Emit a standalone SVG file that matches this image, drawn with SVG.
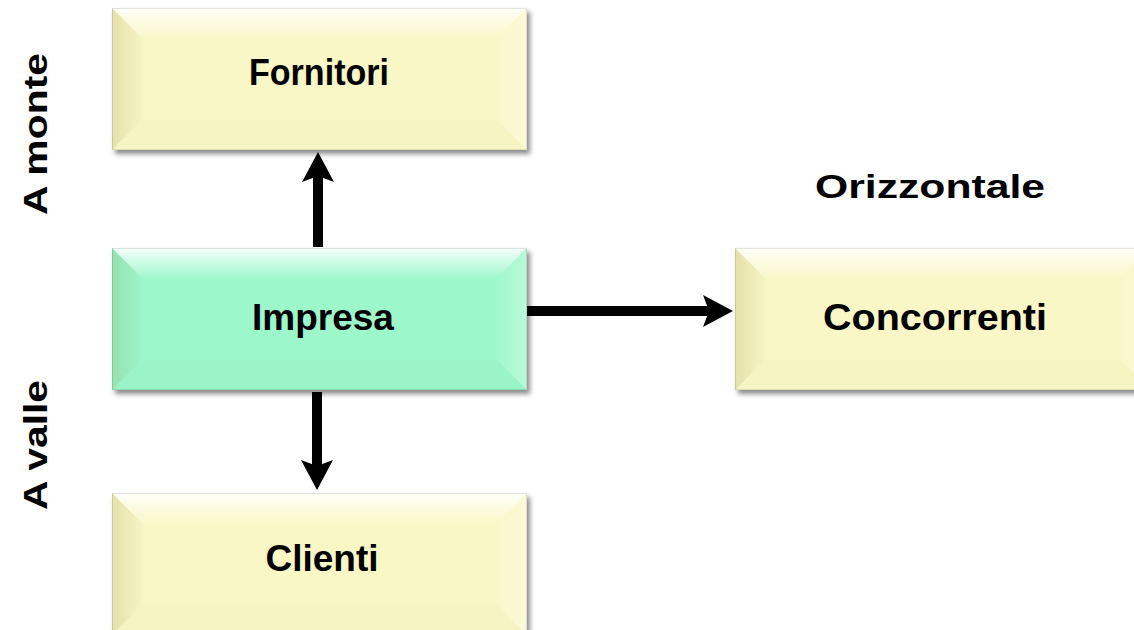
<svg xmlns="http://www.w3.org/2000/svg" width="1134" height="630" viewBox="0 0 1134 630">
<style>
.lbl{font-family:"Liberation Sans",Arial,sans-serif;font-weight:bold;font-size:37px;fill:#000;text-anchor:middle}
.side{font-family:"Liberation Sans",Arial,sans-serif;font-weight:bold;font-size:34px;fill:#000;text-anchor:middle}
.yel{fill:#F9F7C6}
.grn{fill:#9CF7CB}
.conn{stroke:#000;stroke-width:10;fill:none;marker-end:url(#head)}
</style>
<defs>
<filter id="sh" x="-5%" y="-5%" width="112%" height="120%">
<feDropShadow dx="3" dy="4" stdDeviation="2.5" flood-color="#000" flood-opacity="0.45"/>
</filter>
<linearGradient id="gTop" x1="0" y1="0" x2="0" y2="1">
<stop offset="0" stop-color="#fff" stop-opacity="0.9"/>
<stop offset="1" stop-color="#fff" stop-opacity="0.05"/>
</linearGradient>
<linearGradient id="gLeft" x1="0" y1="0" x2="1" y2="0">
<stop offset="0" stop-color="#7a6a20" stop-opacity="0.16"/>
<stop offset="1" stop-color="#7a6a20" stop-opacity="0.02"/>
</linearGradient>
<linearGradient id="gRight" x1="0" y1="0" x2="1" y2="0">
<stop offset="0" stop-color="#fff" stop-opacity="0.05"/>
<stop offset="1" stop-color="#fff" stop-opacity="0.3"/>
</linearGradient>
<g id="bevel">
<polygon points="0,0 415,0 385,30 30,30" fill="url(#gTop)"/>
<polygon points="0,0 30,30 30,112 0,142" fill="url(#gLeft)"/>
<polygon points="415,0 415,142 385,112 385,30" fill="url(#gRight)"/>
<polygon points="0,142 30,112 385,112 415,142" fill="#000" fill-opacity="0.012"/>
<rect x="0.5" y="0.5" width="414" height="141" fill="none" stroke="#000" stroke-opacity="0.1"/>
</g>
<marker id="head" viewBox="0 0 32 32" refX="6" refY="16" markerWidth="32" markerHeight="32" markerUnits="userSpaceOnUse" orient="auto">
<path d="M0,0 L30,16 L0,32 L6,16 Z" fill="#000"/>
</marker>
</defs>

<g id="connectors">
<path class="conn" d="M318,247 L318,176"/>
<path class="conn" d="M317,392 L317,466"/>
<path class="conn" d="M527,311 L709,311"/>
</g>

<g id="fornitori" transform="translate(112,8)">
<rect class="yel" width="415" height="142" filter="url(#sh)"/>
<use href="#bevel"/>
<text class="lbl" x="207" y="77" textLength="140" lengthAdjust="spacingAndGlyphs">Fornitori</text>
</g>

<g id="impresa" transform="translate(112,248)">
<rect class="grn" width="415" height="142" filter="url(#sh)"/>
<use href="#bevel"/>
<text class="lbl" x="211" y="82">Impresa</text>
</g>

<g id="concorrenti" transform="translate(735,248)">
<rect class="yel" width="415" height="142" filter="url(#sh)"/>
<use href="#bevel"/>
<text class="lbl" x="200" y="82" textLength="224" lengthAdjust="spacingAndGlyphs">Concorrenti</text>
</g>

<g id="clienti" transform="translate(112,493)">
<rect class="yel" width="415" height="142" filter="url(#sh)"/>
<use href="#bevel"/>
<text class="lbl" x="210" y="78">Clienti</text>
</g>

<text class="side" x="930" y="198" textLength="230" lengthAdjust="spacingAndGlyphs">Orizzontale</text>
<text class="side" transform="translate(47,134) rotate(-90)" textLength="162" lengthAdjust="spacingAndGlyphs">A monte</text>
<text class="side" transform="translate(47,445) rotate(-90)" textLength="130" lengthAdjust="spacingAndGlyphs">A valle</text>
</svg>
